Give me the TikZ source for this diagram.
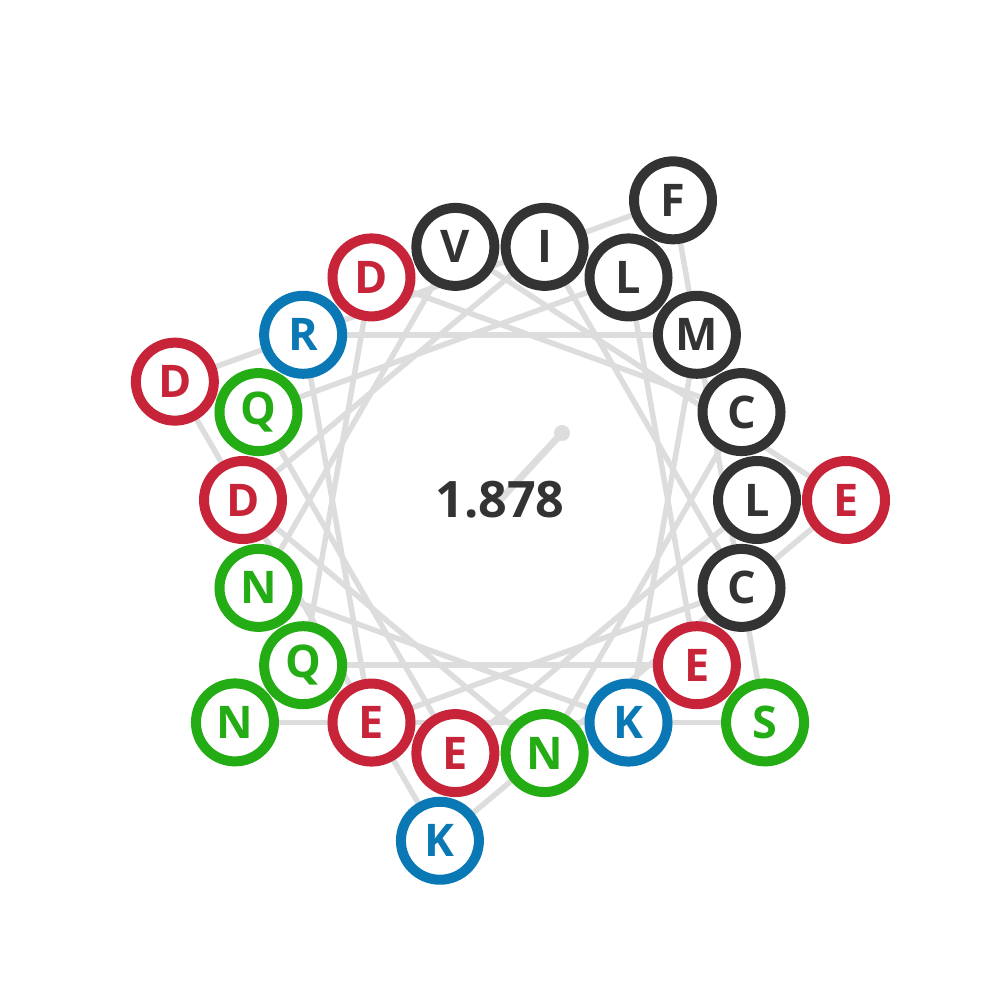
\documentclass[tikz,border=0pt]{standalone}
\usepackage{fontspec}
\setmainfont{Open Sans}
\definecolor{hblack}{HTML}{333333}
\definecolor{hred}{HTML}{C7243A}
\definecolor{hblue}{HTML}{0A78B5}
\definecolor{hgreen}{HTML}{24AC14}
\definecolor{hgray}{HTML}{DDDDDD}
\pgfdeclarelayer{bg}
\pgfsetlayers{bg,main}
\tikzset{
  res/.style={circle, draw=#1, text=#1, line width=0.1cm, fill=white,
    minimum size=0.78cm, inner sep=0pt, font=\fontsize{12.8}{14}\selectfont\bfseries},
  conn/.style={draw=hgray, line width=0.055cm},
  moment/.style={draw=hgray, line width=0.07cm},
  valtext/.style={text=hblack, font=\fontsize{14.3}{16}\selectfont\bfseries}
}
\begin{document}
\begin{tikzpicture}
\useasboundingbox (-5,-5) rectangle (5,5);
\foreach \i/\l/\c in {1/L/hblack,2/E/hred,3/Q/hgreen,4/L/hblack,5/E/hred,6/Q/hgreen,
  7/D/hred,8/C/hblack,9/N/hgreen,10/D/hred,11/I/hblack,12/C/hblack,13/E/hred,
  14/R/hblue,15/M/hblack,16/K/hblue,17/N/hgreen,18/V/hblack,19/E/hred,20/K/hblue,
  21/D/hred,22/F/hblack,23/S/hgreen,24/N/hgreen}{
  \pgfmathsetmacro{\ang}{-(\i-1)*100}
  \pgfmathsetmacro{\rad}{ifthenelse(\i>18,3.46,2.57)}
  \node[res=\c] (r\i) at (\ang:\rad) {\l};
}
\begin{pgfonlayer}{bg}
\foreach \i [evaluate=\i as \j using int(\i+1)] in {1,...,23}{
  \draw[conn] (r\i.center) -- (r\j.center);
}
\coordinate (mstart) at (0,0);
\coordinate (mend) at (0.62,0.67);
\draw[moment] (mstart) -- (mend);
\fill[hgray] (mend) circle (0.08);
\end{pgfonlayer}
\node[valtext] (val) at (0,0) {1.878};
\end{tikzpicture}
\end{document}
